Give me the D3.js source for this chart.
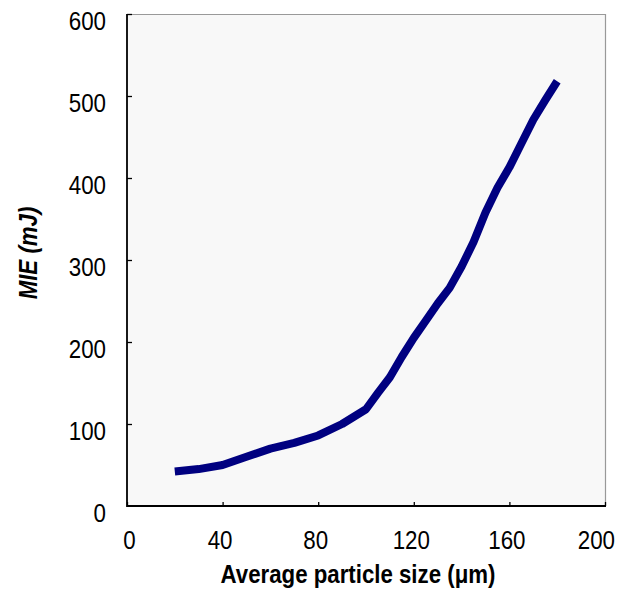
<!DOCTYPE html>
<html>
<head>
<meta charset="utf-8">
<script src="https://cdn.jsdelivr.net/npm/d3@7"></script>
<style>
html,body{margin:0;padding:0;background:#fff;}
svg{display:block;}
text{font-family:"Liberation Sans",Arial,sans-serif;fill:#000;}
</style>
</head>
<body>
<svg id="chart" width="622" height="589"></svg>
<script>
const sizes = [20, 30, 40, 50, 60, 70, 80, 90, 100, 105, 110, 115, 120, 125, 130, 135, 140, 145, 150, 155, 160, 165, 170, 175, 180];
const mie   = [42, 45, 50, 60, 70, 77, 86, 100, 118, 138, 157, 182, 205, 226, 247, 266, 292, 322, 358, 388, 413, 442, 471, 495, 518];
const xTicks = [0, 40, 80, 120, 160, 200];
const yTicks = [0, 100, 200, 300, 400, 500, 600];
const xTitle = "Average particle size (\u03bcm)";
const yTitle = "MIE (mJ)";

const svg = d3.select("#chart");
const L = 127, R = 605, T = 14, B = 506;
const x = d3.scaleLinear().domain([0, 200]).range([L, R]);
const y = d3.scaleLinear().domain([0, 600]).range([B, T]);
const sx = 0.89, sxt = 0.86;

svg.append("rect").attr("x", L).attr("y", T).attr("width", R - L).attr("height", B - T)
  .attr("fill", "#f8f8f8").attr("stroke", "none");
// top and right border (gray)
svg.append("path").attr("d", `M${L},${T + 0.5}H${R + 0.5}V${B}`)
  .attr("fill", "none").attr("stroke", "#999").attr("stroke-width", 1.2);

// axes (ticks inside)
const xAxis = d3.axisTop(x).tickValues(xTicks).tickSize(4).tickFormat("");
const gx = svg.append("g").attr("transform", `translate(0,${B})`).call(xAxis);
const yAxis = d3.axisRight(y).tickValues(yTicks.filter(v => v > 0)).tickSize(5).tickFormat("");
const gy = svg.append("g").attr("transform", `translate(${L},0)`).call(yAxis);
[gx, gy].forEach(g => {
  g.select(".domain").remove();
  g.selectAll(".tick line").attr("stroke", "#000").attr("stroke-width", 1.3);
});
svg.append("path").attr("d", `M${L},${T}V${B}H${R + 1}`)
  .attr("fill", "none").attr("stroke", "#000").attr("stroke-width", 1.8);

// tick labels
const lastX = xTicks[xTicks.length - 1];
svg.append("g").selectAll("text").data(xTicks).join("text")
  .attr("transform", d => d === lastX
      ? `translate(615,549) scale(${sxt},1)`
      : `translate(${x(d) + (d === 0 ? 2.5 : -2.5)},549) scale(${sxt},1)`)
  .attr("text-anchor", d => d === lastX ? "end" : "middle").attr("font-size", 26)
  .text(d => d);
svg.append("g").selectAll("text").data(yTicks).join("text")
  .attr("transform", d => `translate(106,${y(d) + 16}) scale(${sxt},1)`)
  .attr("text-anchor", "end").attr("font-size", 26)
  .text(d => d);

// titles
svg.append("text")
  .attr("transform", `translate(358,583) scale(${sx},1)`)
  .attr("text-anchor", "middle").attr("font-size", 25).attr("font-weight", "bold")
  .text(xTitle);
svg.append("text")
  .attr("transform", `translate(37,253) rotate(-90) scale(${sx},1)`)
  .attr("text-anchor", "middle").attr("font-size", 25).attr("font-weight", "bold")
  .attr("font-style", "italic")
  .text(yTitle);

// data line
const pts = sizes.map((s, i) => [s, mie[i]]);
svg.append("path").datum(pts)
  .attr("d", d3.line().x(d => x(d[0])).y(d => y(d[1])))
  .attr("fill", "none").attr("stroke", "#000080").attr("stroke-width", 8)
  .attr("stroke-linejoin", "round").attr("stroke-linecap", "butt");
</script>
</body>
</html>
